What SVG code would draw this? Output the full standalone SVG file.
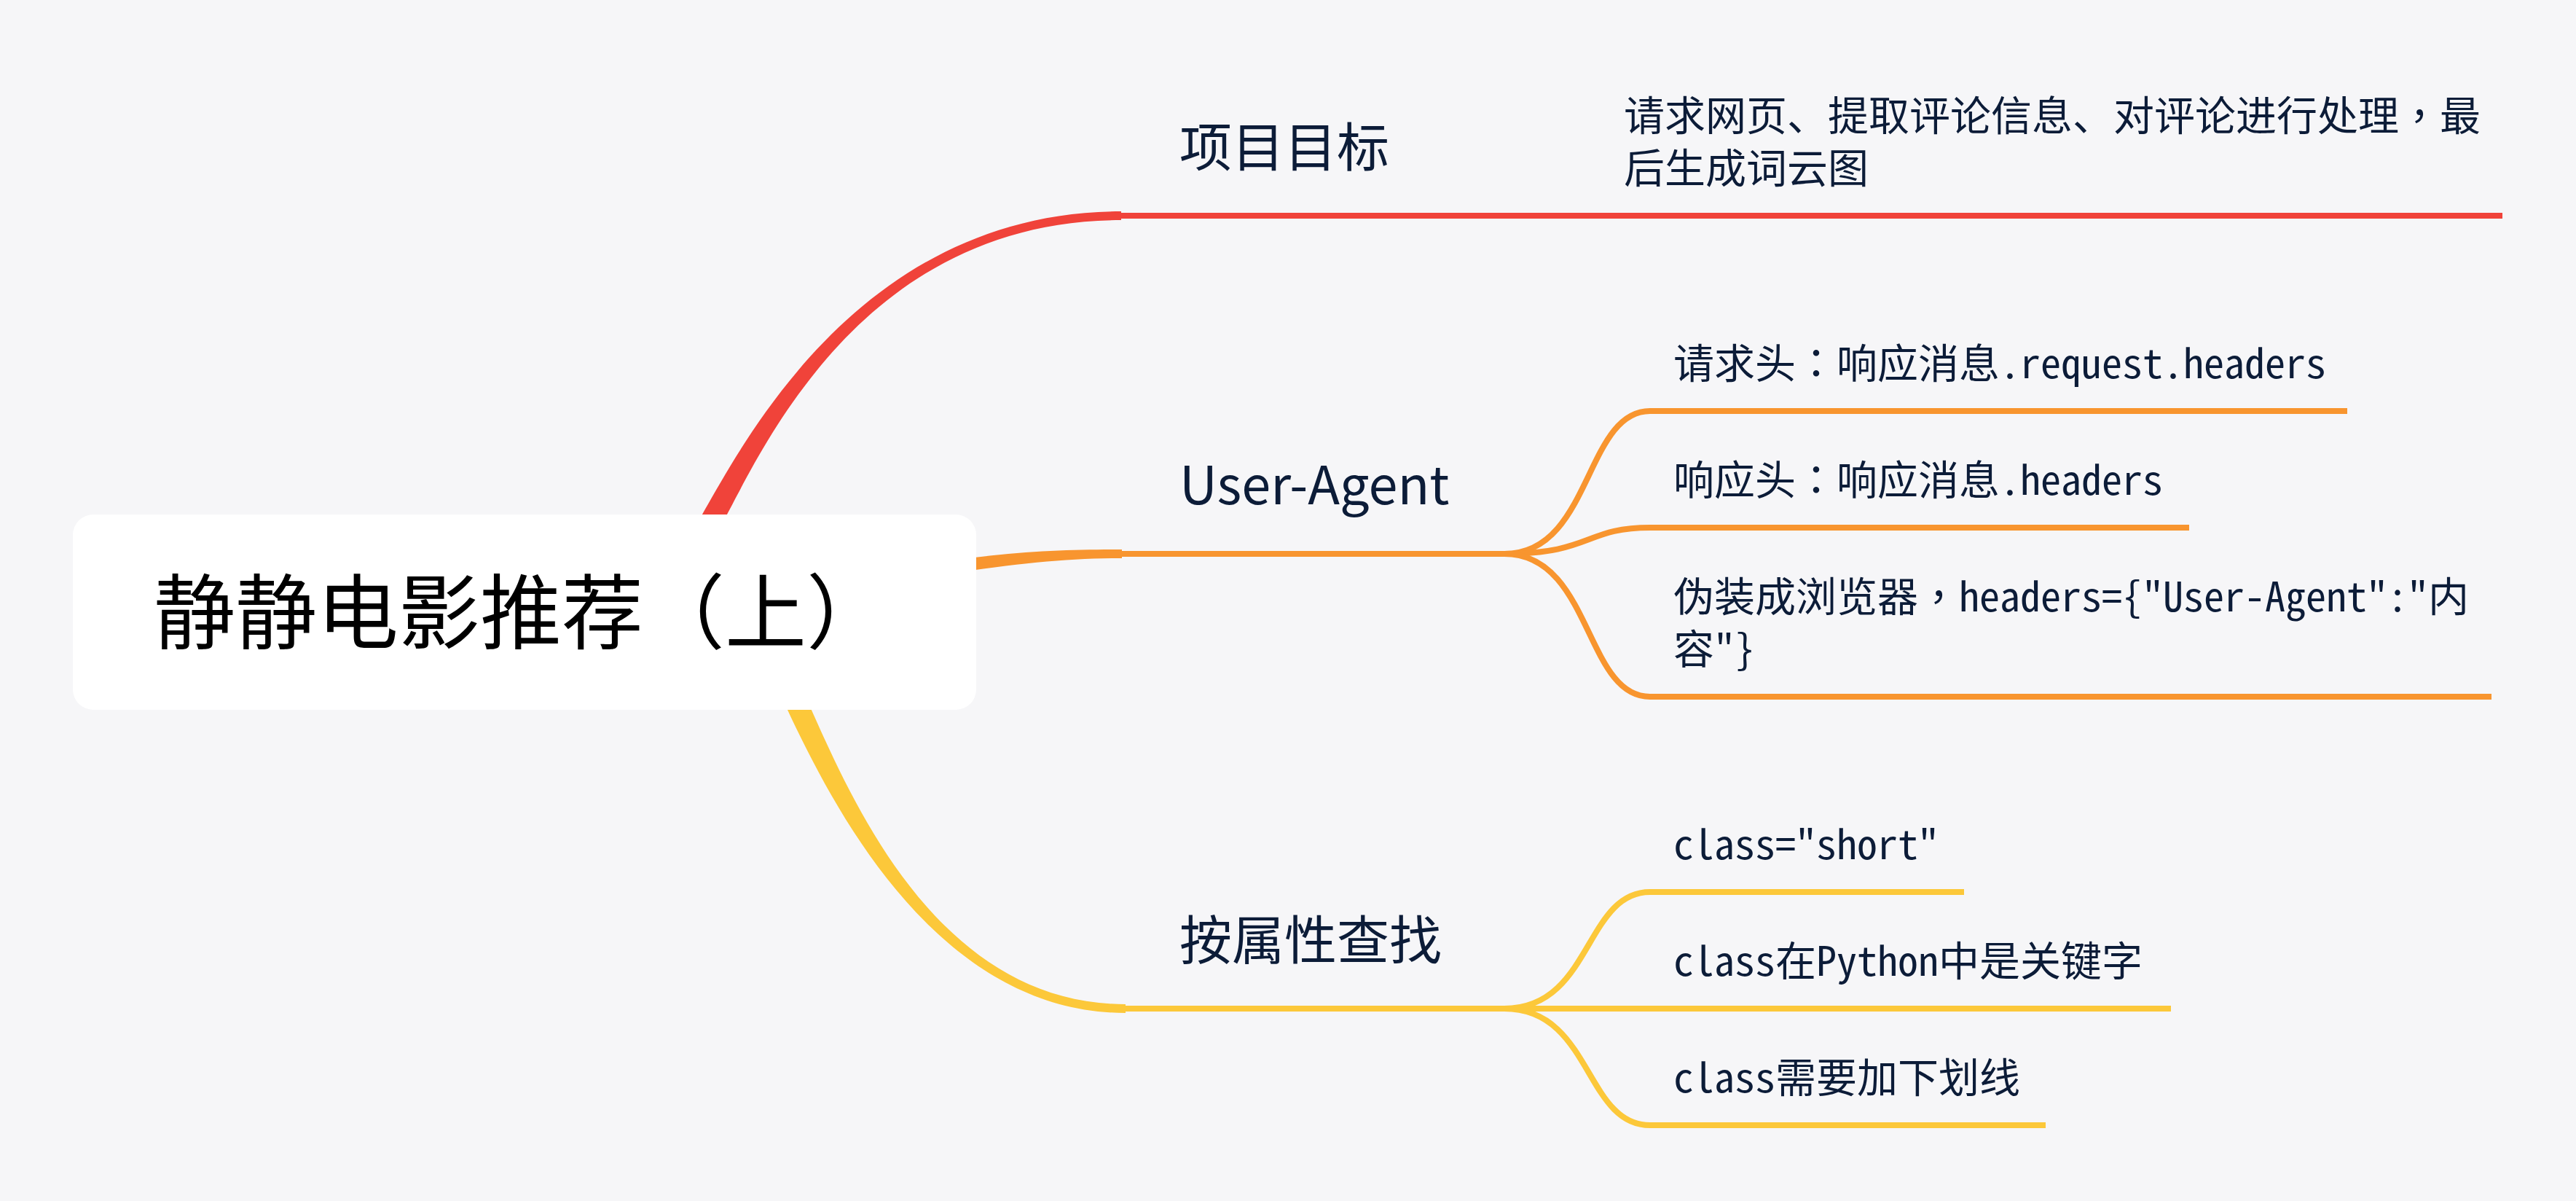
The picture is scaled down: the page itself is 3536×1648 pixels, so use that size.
<svg xmlns="http://www.w3.org/2000/svg" width="3536" height="1648" viewBox="0 0 3536 1648">
<style>
.bg{fill:#f6f6f8}
.line{fill:none;stroke-width:8;stroke-linecap:butt}
.red{stroke:#f0433a}.orange{stroke:#f8952f}.yellow{stroke:#fcc83a}
.fred{fill:#f0433a}.forange{fill:#f8952f}.fyellow{fill:#fcc83a}
.main{font-family:"Noto Sans CJK SC","Noto Sans",sans-serif;font-size:72px;fill:#0c1c38}
.sub{font-family:"Noto Sans Mono CJK SC","Noto Sans CJK SC",monospace;font-size:56px;fill:#0c1c38}
.root{font-family:"Noto Sans CJK SC",sans-serif;font-size:112px;fill:#000}
.tc{font-family:"Noto Sans Mono CJK TC","Noto Sans CJK TC",sans-serif}
.tcr{font-family:"Noto Sans CJK TC",sans-serif}
</style>
<rect class="bg" x="0" y="0" width="3536" height="1648"/>
<g id="connectors">
  <path class="fred" d="M933.9,759.7 L967.9,698.7 C1028.6,593.7 1190,290 1539,290 L1539,302 C1190,302 1051.4,606.3 994.1,713.3 L960.1,774.3 Z"/>
  <path class="forange" d="M1240,781 L1300,770 C1400,755.5 1470,754 1540,754 L1540,766 C1470,766 1400,772.5 1300,788 L1240,800 Z"/>
  <path class="fyellow" d="M1081.6,902.7 L1110.6,966.7 C1172,1104.5 1290,1378 1545,1378 L1545,1390 C1290,1390 1148,1115.5 1083.4,979.3 L1054.4,915.3 Z"/>
  <path class="line red" d="M1539,296 H3435"/>
  <path class="line orange" d="M1539,760 H2065"/>
  <path class="line orange" d="M2065,760 C2185,760 2175,564 2265,564 H3222"/>
  <path class="line orange" d="M2065,760 C2185,760 2175,724 2265,724 H3005"/>
  <path class="line orange" d="M2065,760 C2185,760 2175,956 2265,956 H3420"/>
  <path class="line yellow" d="M1545,1384 H2980"/>
  <path class="line yellow" d="M2065,1384 C2185,1384 2175,1224 2265,1224 H2696"/>
  <path class="line yellow" d="M2065,1384 C2185,1384 2175,1544 2265,1544 H2808"/>
</g>
<g id="root">
  <rect x="100" y="706" width="1240" height="268" rx="28" ry="28" fill="#ffffff"/>
  <text class="root" x="211" y="882">静静电影推荐<tspan class="tcr">（</tspan>上<tspan class="tcr">）</tspan></text>
</g>
<g id="topic-goal">
  <text class="main" x="1619" y="228">项目目标</text>
</g>
<g id="goal-detail">
  <text class="sub" x="2229" y="179">请求网页、提取评论信息、对评论进行处理<tspan class="tc">，</tspan>最<tspan x="2229" y="251">后生成词云图</tspan></text>
</g>
<g id="topic-ua">
  <text class="main" x="1619" y="692">User-Agent</text>
</g>
<g id="ua-request">
  <text class="sub" x="2297" y="519">请求头<tspan class="tc">：</tspan>响应消息.request.headers</text>
</g>
<g id="ua-response">
  <text class="sub" x="2297" y="679">响应头<tspan class="tc">：</tspan>响应消息.headers</text>
</g>
<g id="ua-fake">
  <text class="sub" x="2297" y="839">伪装成浏览器<tspan class="tc">，</tspan>headers={"User-Agent":"内<tspan x="2297" y="911">容"}</tspan></text>
</g>
<g id="topic-attr">
  <text class="main" x="1619" y="1316">按属性查找</text>
</g>
<g id="attr-short">
  <text class="sub" x="2297" y="1179">class="short"</text>
</g>
<g id="attr-keyword">
  <text class="sub" x="2297" y="1339">class在Python中是关键字</text>
</g>
<g id="attr-underscore">
  <text class="sub" x="2297" y="1499">class需要加下划线</text>
</g>
</svg>
